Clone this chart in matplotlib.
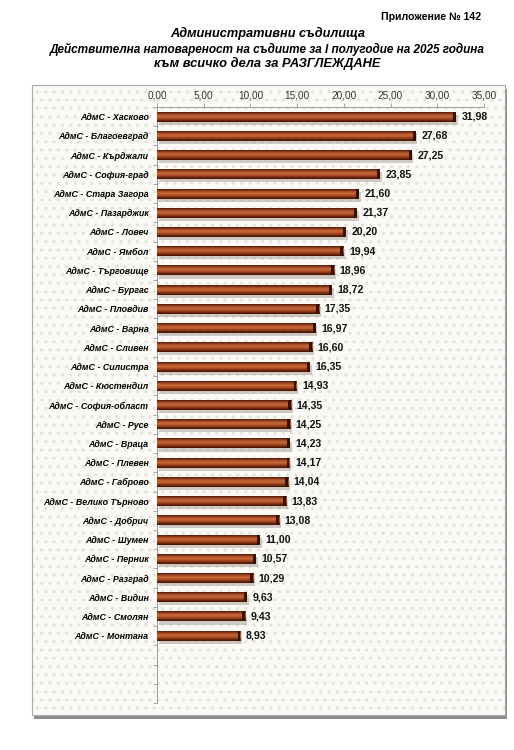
import numpy as np
import matplotlib
matplotlib.use('Agg')
import matplotlib.pyplot as plt
from matplotlib.colors import LinearSegmentedColormap
from matplotlib.patches import Rectangle
from matplotlib.ticker import FuncFormatter, MultipleLocator

plt.rcParams['font.family'] = ['Liberation Sans', 'DejaVu Sans']
plt.rcParams['hatch.linewidth'] = 1.0

courts = ['АдмС - Хасково', 'АдмС - Благоевград', 'АдмС - Кърджали', 'АдмС - София-град',
          'АдмС - Стара Загора', 'АдмС - Пазарджик', 'АдмС - Ловеч', 'АдмС - Ямбол',
          'АдмС - Търговище', 'АдмС - Бургас', 'АдмС - Пловдив', 'АдмС - Варна',
          'АдмС - Сливен', 'АдмС - Силистра', 'АдмС - Кюстендил', 'АдмС - София-област',
          'АдмС - Русе', 'АдмС - Враца', 'АдмС - Плевен', 'АдмС - Габрово',
          'АдмС - Велико Търново', 'АдмС - Добрич', 'АдмС - Шумен', 'АдмС - Перник',
          'АдмС - Разград', 'АдмС - Видин', 'АдмС - Смолян', 'АдмС - Монтана']
load = [31.98, 27.68, 27.25, 23.85, 21.60, 21.37, 20.20, 19.94, 18.96, 18.72,
        17.35, 16.97, 16.60, 16.35, 14.93, 14.35, 14.25, 14.23, 14.17, 14.04,
        13.83, 13.08, 11.00, 10.57, 10.29, 9.63, 9.43, 8.93]
empty_slots = 3

fig = plt.figure(figsize=(5.14, 7.5), dpi=100)

# chart frame: shadow, dotted fill, border
frame = (0.062, 0.047)
fw, fh = 0.920, 0.840
fig.patches.append(Rectangle((frame[0] + 0.004, frame[1] - 0.005), fw, fh,
                             transform=fig.transFigure, facecolor='#8c8c8c',
                             edgecolor='none', zorder=-4))
fig.patches.append(Rectangle(frame, fw, fh, transform=fig.transFigure,
                             facecolor='#fbfaf6', edgecolor='#e4e1d8', lw=0,
                             hatch='..', zorder=-3))
fig.patches.append(Rectangle(frame, fw, fh, transform=fig.transFigure,
                             facecolor='none', edgecolor='#a8a8a8', lw=0.8, zorder=-2))

fig.text(0.839, 0.977, 'Приложение № 142', ha='center', va='center',
         fontsize=7.6, fontweight='bold')
fig.text(0.52, 0.956, 'Административни съдилища', ha='center', va='center',
         fontsize=9.2, fontweight='bold', style='italic')
fig.text(0.52, 0.934, 'Действителна натовареност на съдиите за I полугодие на 2025 година',
         ha='center', va='center', fontsize=8.5, fontweight='bold', style='italic')
fig.text(0.52, 0.915, 'към всичко дела за РАЗГЛЕЖДАНЕ', ha='center', va='center',
         fontsize=9.3, fontweight='bold', style='italic')

ax = fig.add_axes([0.3054, 0.0627, 0.6362, 0.7946])
ax.set_facecolor('none')
ax.set_zorder(1)

n = len(courts) + empty_slots
ypos = np.arange(len(courts))
h = 0.52

cmap = LinearSegmentedColormap.from_list('bar', ['#4f1c08', '#9a4420', '#c8683a',
                                                 '#b4552a', '#7a2c10', '#3e1204'])
grad = np.linspace(0, 1, 64).reshape(-1, 1)

# shadows
ax.barh(ypos + 0.16, load, height=h, left=0.2, color='#a9a39a', alpha=0.55, zorder=1)
bars = ax.barh(ypos, load, height=h, color='#9c4420', zorder=2)
for b, v, y in zip(bars, load, ypos):
    im = ax.imshow(grad, extent=[0, v, y + h / 2, y - h / 2], aspect='auto',
                   cmap=cmap, zorder=3, interpolation='bilinear')
    im.set_clip_path(b)
    ax.barh(y, 0.3, left=v - 0.3, height=h, color='#3a1003', zorder=4)
    ax.text(v + 0.6, y, f'{v:.2f}'.replace('.', ','), ha='left', va='center',
            fontsize=7.6, fontweight='bold', color='#111111')

ax.set_ylim(n - 0.5, -0.5)
ax.set_xlim(0, 35)
ax.xaxis.tick_top()
ax.xaxis.set_major_locator(MultipleLocator(5))
ax.xaxis.set_major_formatter(FuncFormatter(lambda x, p: f'{x:.2f}'.replace('.', ',')))
ax.tick_params(axis='x', labelsize=7.2, colors='#9a9a9a', labelcolor='#333333',
               length=3, width=0.6, pad=2, direction='out')
ax.set_yticks(ypos)
ax.set_yticklabels(courts, fontsize=6.4, fontweight='bold', style='italic')
ax.set_yticks(np.arange(n + 1) - 0.5, minor=True)
ax.tick_params(axis='y', which='major', length=0, pad=6)
ax.tick_params(axis='y', which='minor', length=3, color='#9a9a9a', width=0.6)

for s in ['right', 'bottom']:
    ax.spines[s].set_visible(False)
for s in ['left', 'top']:
    ax.spines[s].set_color('#9a9a9a')
    ax.spines[s].set_linewidth(0.7)

fig.savefig('out.png', dpi=100)
